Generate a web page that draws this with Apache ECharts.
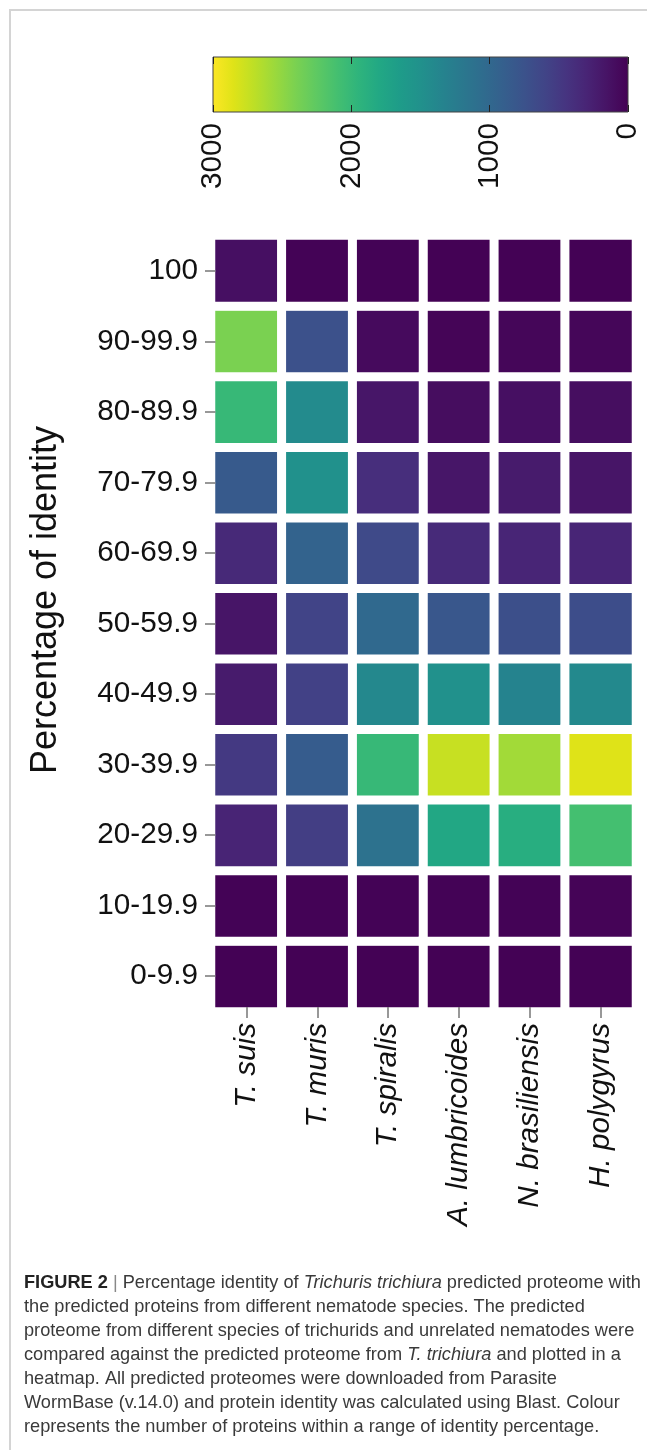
<!DOCTYPE html>
<html>
<head>
<meta charset="utf-8">
<script src="https://cdn.jsdelivr.net/npm/echarts@6/dist/echarts.min.js"></script>
<style>
  html, body { margin: 0; padding: 0; background: #fff; }
  #chart { width: 647px; height: 1450px; }
</style>
</head>
<body>
<div id="chart"></div>
<script>
// Nematode species compared against the T. trichiura proteome
const species = ['T. suis', 'T. muris', 'T. spiralis', 'A. lumbricoides', 'N. brasiliensis', 'H. polygyrus'];

// Identity bins, bottom to top
const identityBins = ['0-9.9', '10-19.9', '20-29.9', '30-39.9', '40-49.9', '50-59.9',
                      '60-69.9', '70-79.9', '80-89.9', '90-99.9', '100'];

// Number of proteins per identity bin (same order as identityBins)
const tSuis          = [5, 15, 300, 500, 220, 170, 345, 840, 2010, 2400, 120];
const tMuris         = [5, 15, 540, 870, 570, 600, 950, 1500, 1430, 735, 20];
const tSpiralis      = [5, 15, 1120, 2010, 1400, 1020, 660, 390, 180, 75, 15];
const aLumbricoides  = [8, 18, 1790, 2745, 1500, 810, 360, 180, 100, 30, 5];
const nBrasiliensis  = [8, 20, 1870, 2580, 1340, 720, 310, 220, 120, 40, 10];
const hPolygyrus     = [8, 25, 2100, 2850, 1410, 700, 310, 165, 110, 40, 10];

const seriesValues = [tSuis, tMuris, tSpiralis, aLumbricoides, nBrasiliensis, hPolygyrus];

// Colour scale range and colour bar tick step
const scaleMin = 0;
const scaleMax = 3000;
const scaleStep = 1000;

// Viridis colour ramp, low to high
const viridis = ['#440154', '#471365', '#482475', '#463480', '#414487', '#3b528b', '#355f8d',
                 '#2f6c8e', '#2a788e', '#25848e', '#21918c', '#1e9c89', '#22a884', '#2fb47c',
                 '#44bf70', '#5ec962', '#7ad151', '#9bd93c', '#bddf26', '#dfe318', '#fde725'];

const heatData = [];
seriesValues.forEach((vals, i) => {
  vals.forEach((v, j) => heatData.push([i, j, v]));
});

// Colour bar fill: high values on the left, low on the right
const barStops = viridis.slice().reverse().map((c, k, arr) => ({ offset: k / (arr.length - 1), color: c }));

const axisFont = 'Liberation Sans, Arial, Helvetica, sans-serif';
const labelSize = 29.7;
const capFont = 'Liberation Sans, Arial, sans-serif';
const capSize = 18.2;
const capColor = '#3a3a3a';

const chart = echarts.init(document.getElementById('chart'), null, { renderer: 'canvas' });

const captionLines = [
  '{b|FIGURE 2} {s||} Percentage identity of {i|Trichuris trichiura} predicted proteome with',
  'the predicted proteins from different nematode species. The predicted',
  'proteome from different species of trichurids and unrelated nematodes were',
  'compared against the predicted proteome from {i|T. trichiura} and plotted in a',
  'heatmap. All predicted proteomes were downloaded from Parasite',
  'WormBase (v.14.0) and protein identity was calculated using Blast. Colour',
  'represents the number of proteins within a range of identity percentage.'
];

const captionGraphics = captionLines.map((line, k) => ({
  type: 'text',
  left: 24,
  top: 1274 + k * 24,
  style: {
    text: line,
    font: capSize + 'px ' + capFont,
    fill: capColor,
    rich: {
      b: { fontWeight: 'bold', fontSize: capSize, fontFamily: capFont, fill: '#222' },
      i: { fontStyle: 'italic', fontSize: capSize, fontFamily: capFont, fill: capColor },
      s: { fontSize: capSize, fontFamily: capFont, fill: '#888' }
    }
  }
}));

const tickStyle = { color: '#777', width: 1.5 };

const option = {
  animation: false,
  backgroundColor: '#fff',
  grid: [
    { left: 211, width: 425, top: 235.5, height: 776 },
    {
      left: 213, width: 415, top: 57, height: 55, show: true,
      borderColor: '#444', borderWidth: 1,
      backgroundColor: new echarts.graphic.LinearGradient(0, 0, 1, 0, barStops)
    }
  ],
  xAxis: [
    {
      type: 'category', gridIndex: 0, data: species, position: 'bottom',
      offset: -4.5, z: 5,
      axisLine: { show: false },
      axisTick: { show: true, alignWithLabel: true, length: 11, lineStyle: tickStyle },
      axisLabel: { rotate: 90, margin: 16, fontSize: labelSize, fontStyle: 'italic', color: '#111', fontFamily: axisFont },
      splitLine: { show: false }
    },
    {
      type: 'value', gridIndex: 1, min: scaleMin, max: scaleMax, interval: scaleStep, inverse: true,
      position: 'bottom',
      axisLine: { show: false },
      axisTick: { show: true, inside: true, length: 7, lineStyle: { color: '#222', width: 1 } },
      axisLabel: { rotate: 90, margin: 11, fontSize: labelSize, color: '#111', fontFamily: axisFont,
                   formatter: (v) => String(v) },
      splitLine: { show: false }
    },
    {
      type: 'value', gridIndex: 1, min: scaleMin, max: scaleMax, interval: scaleStep, inverse: true,
      position: 'top',
      axisLine: { show: false },
      axisTick: { show: true, inside: true, length: 7, lineStyle: { color: '#222', width: 1 } },
      axisLabel: { show: false },
      splitLine: { show: false }
    }
  ],
  yAxis: [
    {
      type: 'category', gridIndex: 0, data: identityBins,
      offset: -4.5, z: 5,
      axisLine: { show: false },
      axisTick: { show: true, alignWithLabel: true, length: 10.5, lineStyle: tickStyle },
      axisLabel: { margin: 17.5, fontSize: labelSize, color: '#111', fontFamily: axisFont },
      splitLine: { show: false }
    },
    {
      type: 'value', gridIndex: 1, min: 0, max: 1, show: false
    }
  ],
  visualMap: {
    type: 'continuous', show: false, min: scaleMin, max: scaleMax, dimension: 2, seriesIndex: 0,
    inRange: { color: viridis }
  },
  graphic: [
    // figure frame
    { type: 'line', shape: { x1: 9, y1: 10, x2: 647, y2: 10 }, style: { stroke: '#d4d4d4', lineWidth: 2 } },
    { type: 'line', shape: { x1: 10, y1: 10, x2: 10, y2: 1450 }, style: { stroke: '#d4d4d4', lineWidth: 2 } },
    // y-axis title
    {
      type: 'text', x: 46, y: 600, rotation: Math.PI / 2,
      style: { text: 'Percentage of identity', font: '36px ' + axisFont, fill: '#111', align: 'center', verticalAlign: 'middle' }
    }
  ].concat(captionGraphics),
  series: [
    {
      type: 'heatmap', xAxisIndex: 0, yAxisIndex: 0, data: heatData,
      itemStyle: { borderColor: '#fff', borderWidth: 9 },
      emphasis: { disabled: true }
    }
  ]
};

chart.setOption(option);
</script>
</body>
</html>
